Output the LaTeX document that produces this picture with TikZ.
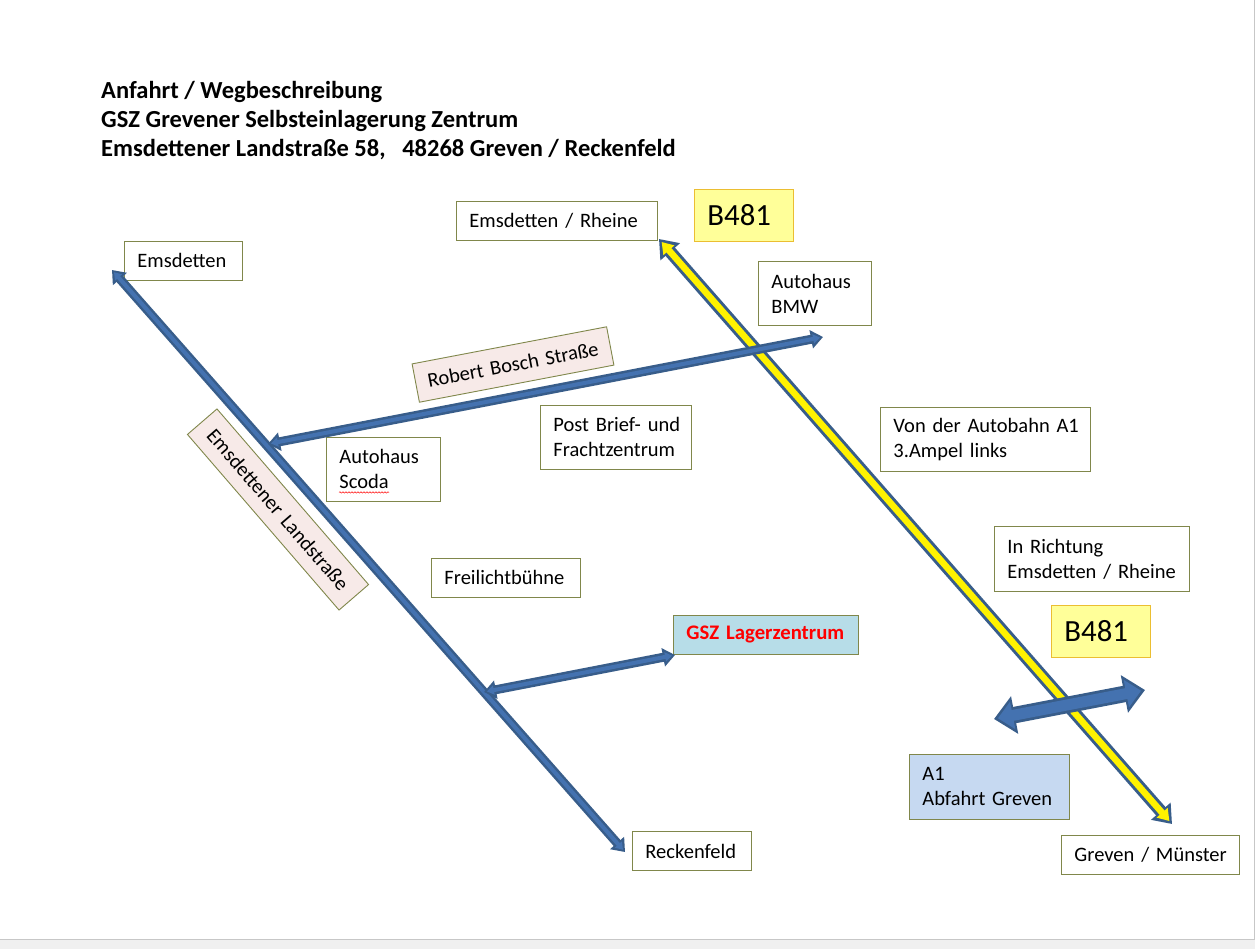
\documentclass[tikz,border=0pt]{standalone}
\usepackage{fontspec}
\setmainfont{Carlito}
\usetikzlibrary{arrows.meta,decorations.pathmorphing}
\definecolor{boxline}{RGB}{128,135,75}
\definecolor{roadedge}{RGB}{56,93,138}
\definecolor{roadfill}{RGB}{68,114,176}
\definecolor{signfill}{RGB}{255,255,153}
\definecolor{signline}{RGB}{235,190,50}
\definecolor{namefill}{RGB}{247,234,232}
\definecolor{gszfill}{RGB}{183,221,232}
\definecolor{exitfill}{RGB}{198,217,241}
\newcommand{\lblfont}{\fontsize{20.5}{25}\selectfont\spaceskip=.19em\relax}
\newcommand{\gszfont}{\fontsize{20.7}{25}\bfseries\selectfont\spaceskip=.19em\relax}

\begin{document}
\begin{tikzpicture}[x=1pt,y=-1pt,
 lbl/.style={draw=boxline,line width=.9pt,align=left,inner xsep=13pt,inner ysep=0pt,text width=#1,
  minimum height=39pt,anchor=north west,font=\lblfont},
 sign/.style={lbl=#1,draw=signline,fill=signfill,minimum height=52pt,font=\fontsize{30.8}{36}\selectfont},
 roadname/.style={lbl=#1,align=center,inner xsep=4pt,fill=namefill,anchor=center},
 road/.style={line width=9pt,draw=roadedge,{Triangle[length=12pt,width=18pt]}-{Triangle[length=12pt,width=18pt]},
  postaction={draw=roadfill,line width=4pt,shorten >=3pt,shorten <=3pt,{Triangle[length=7pt,width=9pt]}-{Triangle[length=7pt,width=9pt]}}},
 highway/.style={line width=12.5pt,draw=roadedge,{Triangle[length=17pt,width=25pt]}-{Triangle[length=17pt,width=25pt]},
  postaction={draw=yellow,line width=6.5pt,shorten >=4pt,shorten <=4pt,{Triangle[length=11pt,width=14pt]}-{Triangle[length=11pt,width=14pt]}}},
 exitroad/.style={line width=16.5pt,draw=roadedge,{Triangle[length=21pt,width=37pt]}-{Triangle[length=21pt,width=37pt]},
  postaction={draw=roadfill,line width=11pt,shorten >=4pt,shorten <=4pt,{Triangle[length=15pt,width=27pt]}-{Triangle[length=15pt,width=27pt]}}}]
\useasboundingbox (0,0) rectangle (1255,949);
\fill[white] (0,0) rectangle (1255,949);
\fill[black!6] (0,939) rectangle (1255,949);
\draw[black!22] (0,939) -- (1254,939) -- (1254,0);

\node[anchor=north west,align=left,inner sep=0pt,font=\fontsize{24.5}{29}\bfseries\selectfont] (title) at (101,81)
 {Anfahrt / Wegbeschreibung\\GSZ Grevener Selbsteinlagerung Zentrum\\Emsdettener Landstraße 58,\ \ \ 48268 Greven / Reckenfeld};

% labels along the roads
\node[lbl=92pt] (emsdetten) at (124,241) {Emsdetten};
\node[lbl=175pt] (rheine) at (456,201) {Emsdetten / Rheine};
\node[sign=73pt] (signnorth) at (694,189) {B481};
\node[lbl=87pt,minimum height=64pt] (bmw) at (758,261) {Autohaus\\BMW};
\node[lbl=125pt,minimum height=64pt] (post) at (540,405) {\mbox{Post Brief- und}\\\mbox{Frachtzentrum}};
\node[lbl=184pt,minimum height=64pt] (autobahn) at (880,407) {\mbox{Von der Autobahn A1}\\3.Ampel links};
\node[lbl=88pt,minimum height=64pt] (scoda) at (326,437) {Autohaus\\Scoda};
\node[lbl=123pt] (buehne) at (431,558) {Freilichtbühne};
\node[lbl=159pt,fill=gszfill,text=red,font=\gszfont] (gsz) at (673,615) {GSZ Lagerzentrum};
\node[lbl=169pt,minimum height=65pt] (richtung) at (994,526) {In Richtung\\\mbox{Emsdetten / Rheine}};
\node[sign=73pt] (signsouth) at (1051,605) {B481};
\node[lbl=134pt,fill=exitfill,minimum height=65pt] (exit) at (909,754) {A1\\Abfahrt Greven};
\node[lbl=93pt] (reckenfeld) at (632,831) {Reckenfeld};
\node[lbl=152pt] (muenster) at (1061,835) {\mbox{Greven / Münster}};
\node[roadname=190pt,rotate=10.8] (bosch) at (513,364.5) {Robert Bosch Straße};
\node[roadname=224pt,rotate=-49.2] (landstr) at (278,509.5) {Emsdettener Landstraße};
\draw[red,line width=.5pt,decorate,decoration={snake,amplitude=.7pt,segment length=3pt}]
 ([xshift=13pt,yshift=-23pt]scoda.west) -- ([xshift=63pt,yshift=-23pt]scoda.west);

\coordinate (landN) at (112,270);
\coordinate (landS) at (625,852);
\coordinate (gszW) at (484,692);
\coordinate (gszE) at (675,655);
\coordinate (b481N) at (659,239);
\coordinate (b481S) at (1172,824);
\coordinate (boschW) at (268,444);
\coordinate (boschE) at (823,337);
\coordinate (a1W) at (994,719);
\coordinate (a1E) at (1145,690);
\draw[road] (landN)--(landS);
\draw[road] (gszW)--(gszE);
\draw[highway] (b481N)--(b481S);
\draw[road] (boschW)--(boschE);
\draw[exitroad] (a1W)--(a1E);
\end{tikzpicture}
\end{document}
